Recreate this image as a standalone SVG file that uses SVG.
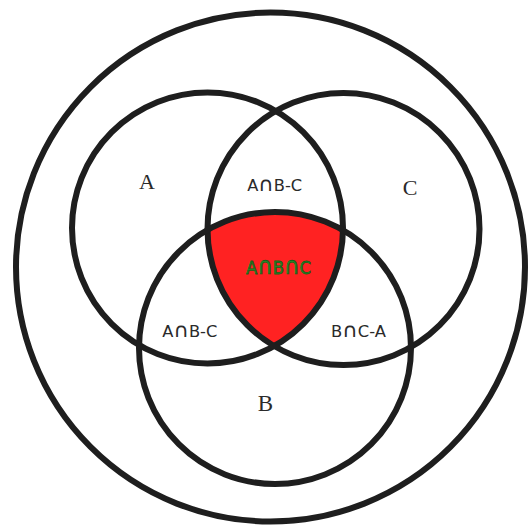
<svg xmlns="http://www.w3.org/2000/svg" width="529" height="530" viewBox="0 0 529 530">
  <style>
    .ring { fill: none; stroke: #1e1e1e; stroke-width: 6; }
    .set { font-family: "Liberation Serif", "Times New Roman", serif; fill: #2a2a2a; text-anchor: middle; }
    .region { font-family: "DejaVu Sans", "Liberation Sans", Arial, sans-serif; font-size: 15px; fill: #2a2a2a; text-anchor: middle; }
    .core { font-family: "DejaVu Sans", "Liberation Sans", Arial, sans-serif; font-size: 18px; fill: #2b8f2b; stroke: #176017; stroke-width: 0.8; text-anchor: middle; }
    .cap { font-size: 1.3em; }
  </style>
  <defs>
    <clipPath id="clipA"><circle cx="207.5" cy="228" r="135.5"/></clipPath>
    <clipPath id="clipC"><circle cx="343.5" cy="229" r="136"/></clipPath>
  </defs>
  <rect width="529" height="530" fill="#ffffff"/>

  <g id="intersection-fill">
    <g clip-path="url(#clipA)">
      <g clip-path="url(#clipC)">
        <circle cx="275" cy="348" r="136" fill="#ff2222"/>
      </g>
    </g>
  </g>

  <g id="universe">
    <circle class="ring" cx="270.5" cy="267" r="254.5"/>
  </g>
  <g id="setA">
    <circle class="ring" cx="207.5" cy="228" r="135.5"/>
    <text class="set" x="147" y="189" font-size="22">A</text>
  </g>
  <g id="setC">
    <circle class="ring" cx="343.5" cy="229" r="136"/>
    <text class="set" x="410" y="195" font-size="22">C</text>
  </g>
  <g id="setB">
    <circle class="ring" cx="275" cy="348" r="136"/>
    <text class="set" x="265.5" y="410.5" font-size="23">B</text>
  </g>

  <g id="labels">
    <text class="region" x="274.7" y="191" textLength="55" lengthAdjust="spacingAndGlyphs">A<tspan class="cap">∩</tspan>B-C</text>
    <text class="region" x="189.8" y="337" textLength="55" lengthAdjust="spacingAndGlyphs">A<tspan class="cap">∩</tspan>B-C</text>
    <text class="region" x="358.5" y="337" textLength="55" lengthAdjust="spacingAndGlyphs">B<tspan class="cap">∩</tspan>C-A</text>
    <text class="core" x="278.5" y="274" textLength="65" lengthAdjust="spacingAndGlyphs">A<tspan class="cap">∩</tspan>B<tspan class="cap">∩</tspan>C</text>
  </g>
</svg>
